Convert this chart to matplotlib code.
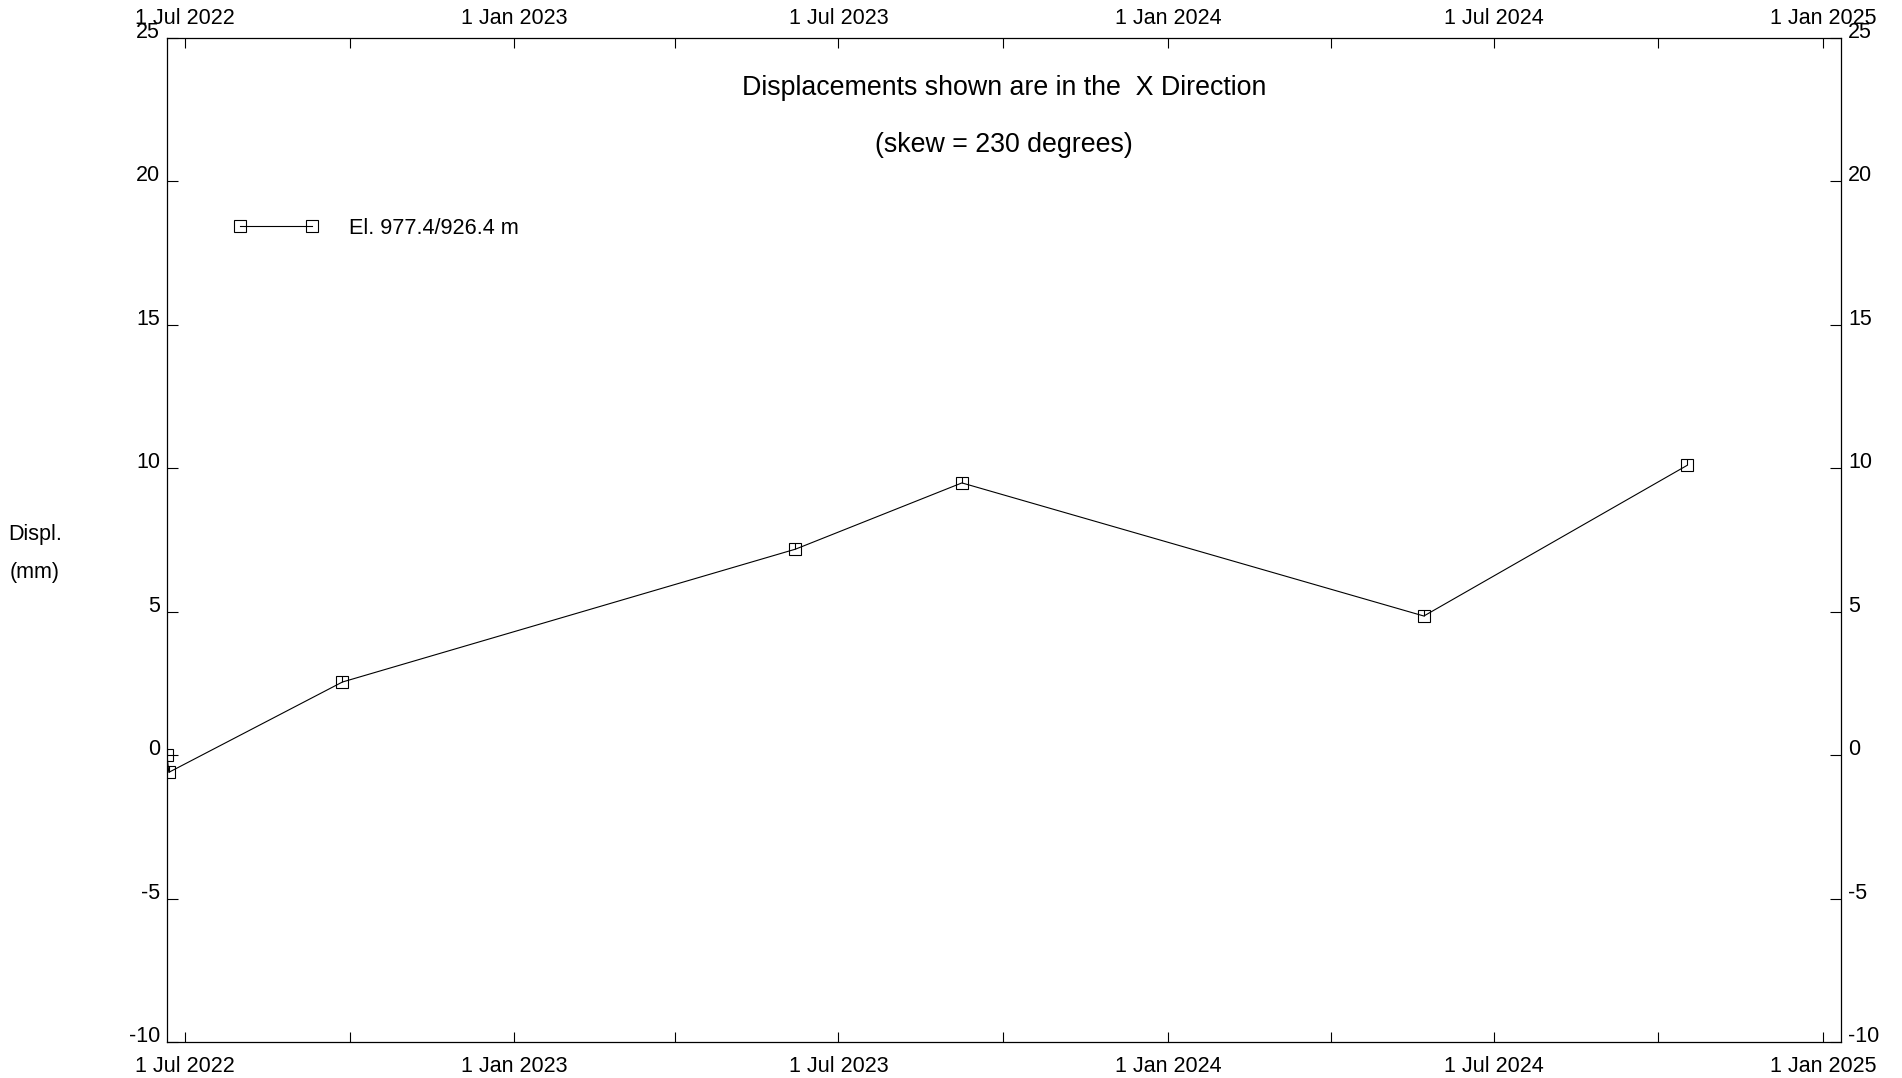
import matplotlib
matplotlib.use("Agg")
import matplotlib.pyplot as plt
import matplotlib.dates as mdates
import numpy as np
from datetime import datetime

plt.rcParams['font.family'] = ['Liberation Sans', 'DejaVu Sans']
plt.rcParams['axes.unicode_minus'] = False

# survey dates and displacement readings (mm)
dates = [datetime(2022, 6, 21), datetime(2022, 6, 22), datetime(2022, 9, 27),
         datetime(2023, 6, 7), datetime(2023, 9, 8), datetime(2024, 5, 23),
         datetime(2024, 10, 17)]
displ = [0.0, -0.6, 2.55, 7.18, 9.49, 4.85, 10.1]

series_label = "El. 977.4/926.4 m"
title_lines = ["Displacements shown are in the  X Direction", "(skew = 230 degrees)"]
y_ticks = [-10, -5, 0, 5, 10, 15, 20, 25]

fig = plt.figure(figsize=(19.02, 10.78), dpi=100)
ax = fig.add_axes([167 / 1902, 1 - 1042 / 1078, 1674 / 1902, 1004 / 1078])

# line with open squares, plus the little stem inside each square
ax.plot(dates, displ, color="black", lw=0.8, marker="s", ms=8.5, mfc="none",
        mec="black", mew=0.8, label=series_label)
ax.plot(dates, displ, ls="none", marker=2, ms=4.5, mec="black", mew=0.8)

ax.set_xlim(datetime(2022, 6, 21), datetime(2025, 1, 11))
ax.set_ylim(-10, 25)
ax.set_yticks(y_ticks)

ax.xaxis.set_major_locator(mdates.MonthLocator(bymonth=[1, 7]))
ax.xaxis.set_minor_locator(mdates.MonthLocator(bymonth=[4, 10]))
ax.xaxis.set_major_formatter(mdates.DateFormatter("%-d %b %Y"))

ax.tick_params(axis="x", which="both", direction="in", top=True, bottom=True,
               labeltop=True, labelbottom=True, length=7, width=0.8,
               labelsize=15.5, pad=10)
ax.tick_params(axis="y", direction="in", left=True, right=True,
               labelleft=True, labelright=True, length=8, width=0.8,
               labelsize=15.5, pad=5)
for t in ax.yaxis.get_major_ticks():
    t.label1.set_va("baseline")
    t.label2.set_va("baseline")
for t in ax.xaxis.get_major_ticks():
    t.label2.set_va("baseline")

for s in ax.spines.values():
    s.set_linewidth(0.9)

ax.text(0.5, 0.9505, title_lines[0], transform=ax.transAxes, ha="center",
        va="center", fontsize=19.3)
ax.text(0.5, 0.8935, title_lines[1], transform=ax.transAxes, ha="center",
        va="center", fontsize=19.3)

fig.text(35 / 1902, 1 - 534.5 / 1078, "Displ.", ha="center", va="center", fontsize=15.5)
fig.text(35 / 1902, 1 - 572.5 / 1078, "(mm)", ha="center", va="center", fontsize=15.5)

ax.legend(loc="upper left", bbox_to_anchor=(0.040, 0.821), frameon=False,
          numpoints=2, handlelength=3.9, handletextpad=1.42, borderpad=0,
          borderaxespad=0, fontsize=15.6)

fig.savefig("out.png", dpi=100)
